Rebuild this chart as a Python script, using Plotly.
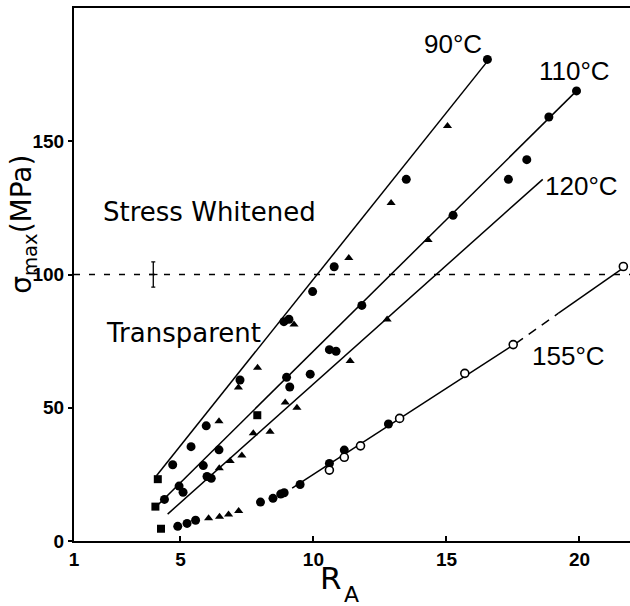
import plotly.graph_objects as go

# ---------------- data ----------------
# 90 C
t90_circ_x = [4.71, 5.40, 5.97, 7.24, 8.89, 9.08, 9.97, 10.78, 13.49, 16.54]
t90_circ_y = [28.6, 35.4, 43.2, 60.4, 82.3, 83.2, 93.6, 102.9, 135.7, 180.7]
t90_sq_x = [4.15]
t90_sq_y = [23.2]
t90_tri_x = [6.45, 7.18, 7.90, 9.27, 11.33, 12.92, 15.04]
t90_tri_y = [44.9, 57.6, 65.0, 81.2, 106.2, 126.8, 155.7]
l90_x = [4.10, 16.50]
l90_y = [24.5, 179.5]

# 110 C
t110_sq_x = [4.06, 7.89]
t110_sq_y = [12.9, 47.2]
t110_circ_x = [4.40, 4.95, 5.86, 6.45, 8.99, 9.11, 11.82, 15.25, 17.33, 18.02, 18.85, 19.89]
t110_circ_y = [15.6, 20.6, 28.3, 34.2, 61.4, 57.8, 88.4, 122.2, 135.7, 143.1, 159.1, 168.9]
t110_tri_x = [14.31]
t110_tri_y = [112.9]
l110_x = [3.98, 19.90]
l110_y = [11.8, 169.0]

# 120 C
t120_circ_x = [5.10, 6.00, 6.16, 9.88, 10.60, 10.85]
t120_circ_y = [18.3, 24.2, 23.5, 62.6, 71.8, 71.2]
t120_tri_x = [6.46, 6.87, 7.31, 7.74, 8.37, 8.94, 9.38, 11.38, 12.77]
t120_tri_y = [27.3, 30.0, 32.1, 40.4, 41.0, 52.0, 50.0, 67.5, 83.1]
l120_x = [4.52, 18.62]
l120_y = [10.1, 135.7]

# 155 C
t155_sq_x = [4.27]
t155_sq_y = [4.6]
t155_circ_x = [4.90, 5.25, 5.57, 8.01, 8.48, 8.77, 8.90, 9.50, 10.60, 11.16, 12.82]
t155_circ_y = [5.5, 6.6, 7.8, 14.6, 16.0, 17.6, 18.1, 21.2, 29.1, 34.1, 43.9]
t155_tri_x = [6.06, 6.47, 6.81, 7.19]
t155_tri_y = [8.5, 9.1, 9.9, 11.3]
t155_open_x = [10.60, 11.16, 11.77, 13.24, 15.69, 17.51, 21.65]
t155_open_y = [26.6, 31.4, 35.7, 46.0, 62.9, 73.7, 103.0]
l155a_x = [9.20, 17.60]
l155a_y = [19.8, 74.1]
l155b_x = [17.60, 19.20]
l155b_y = [74.1, 85.4]
l155c_x = [19.20, 21.65]
l155c_y = [85.4, 102.5]

# transition level
ref_x = [1.0, 21.9]
ref_y = [100.0, 100.0]
err_x = [3.98]
err_y = [100.0]
err_size = [4.7]

x_ticks = [1, 5, 10, 15, 20]
y_ticks = [0, 50, 100, 150]

# ---------------- figure ----------------
fig = go.Figure()

BLACK = "black"


def add_line(xs, ys, dash="solid", width=1.5):
    fig.add_trace(go.Scatter(x=xs, y=ys, mode="lines",
                             line=dict(color=BLACK, width=width, dash=dash),
                             hoverinfo="skip", showlegend=False, cliponaxis=False))


def add_pts(xs, ys, symbol, size, lw=0, fill=BLACK):
    fig.add_trace(go.Scatter(x=xs, y=ys, mode="markers",
                             marker=dict(symbol=symbol, size=size, color=fill,
                                         line=dict(color=BLACK, width=lw)),
                             showlegend=False, cliponaxis=False))


# reference dashed line at 100 MPa
add_line(ref_x, ref_y, dash="6px,9px", width=1.3)
fig.add_trace(go.Scatter(x=err_x, y=err_y, mode="markers",
                         marker=dict(symbol="line-ew", size=6, line=dict(color=BLACK, width=1.3)),
                         error_y=dict(type="data", array=err_size, visible=True,
                                      color=BLACK, thickness=1.3, width=2),
                         showlegend=False, cliponaxis=False))

# fit lines
add_line(l90_x, l90_y)
add_line(l110_x, l110_y)
add_line(l120_x, l120_y)
add_line(l155a_x, l155a_y)
add_line(l155b_x, l155b_y, dash="9px,7px")
add_line(l155c_x, l155c_y)

# points
for xs, ys in [(t90_circ_x, t90_circ_y), (t110_circ_x, t110_circ_y),
               (t120_circ_x, t120_circ_y), (t155_circ_x, t155_circ_y)]:
    add_pts(xs, ys, "circle", 9)
for xs, ys in [(t90_sq_x, t90_sq_y), (t110_sq_x, t110_sq_y), (t155_sq_x, t155_sq_y)]:
    add_pts(xs, ys, "square", 8)
for xs, ys in [(t90_tri_x, t90_tri_y), (t110_tri_x, t110_tri_y),
               (t120_tri_x, t120_tri_y), (t155_tri_x, t155_tri_y)]:
    add_pts(xs, ys, "triangle-up", 8)
add_pts(t155_open_x, t155_open_y, "circle", 8, lw=1.6, fill="white")

tick_font = dict(family="Liberation Sans, Arial", size=19, color=BLACK, weight="bold")

fig.update_xaxes(range=[1, 21.9], tickvals=x_ticks, ticktext=[str(v) for v in x_ticks],
                 ticks="inside", ticklen=5, tickwidth=1.5, tickcolor=BLACK,
                 showline=True, linewidth=2, linecolor=BLACK, mirror=True,
                 showgrid=False, zeroline=False, tickfont=tick_font)
fig.update_yaxes(range=[0, 200], tickvals=y_ticks, ticktext=[str(v) for v in y_ticks],
                 ticks="outside", ticklen=4, tickwidth=1.5, tickcolor=BLACK,
                 showline=True, linewidth=2, linecolor=BLACK, mirror=False,
                 showgrid=False, zeroline=False, tickfont=tick_font)

temp_font = dict(family="Liberation Sans, Arial", size=26, color=BLACK)
region_font = dict(family="DejaVu Sans", size=26, color=BLACK)

annots = [
    dict(x=14.07, y=186.5, text="90°C", font=temp_font),
    dict(x=18.39, y=176.4, text="110°C", font=temp_font),
    dict(x=18.62, y=133.1, text="120°C", font=temp_font),
    dict(x=18.14, y=69.4, text="155°C", font=temp_font),
    dict(x=2.02, y=123.4, text="Stress Whitened", font=region_font),
    dict(x=2.12, y=78.0, text="Transparent", font=region_font),
]
for a in annots:
    fig.add_annotation(xref="x", yref="y", xanchor="left", yanchor="middle",
                       showarrow=False, **a)

# axis titles
fig.add_annotation(xref="paper", yref="paper", x=-0.09, y=0.595,
                   text="σ<sub>max</sub>(MPa)", textangle=-90, showarrow=False,
                   xanchor="center", yanchor="middle",
                   font=dict(family="DejaVu Sans", size=28, color=BLACK))
fig.add_annotation(xref="paper", yref="paper", x=0.463, y=-0.069, text="R",
                   showarrow=False, xanchor="center", yanchor="middle",
                   font=dict(family="DejaVu Sans", size=31, color=BLACK))
fig.add_annotation(xref="paper", yref="paper", x=0.499, y=-0.101, text="A",
                   showarrow=False, xanchor="center", yanchor="middle",
                   font=dict(family="DejaVu Sans", size=22, color=BLACK))

fig.update_layout(width=630, height=606,
                  margin=dict(l=74, r=0, t=8, b=65, pad=0),
                  paper_bgcolor="white", plot_bgcolor="white",
                  showlegend=False)

fig.write_html("out.html")
